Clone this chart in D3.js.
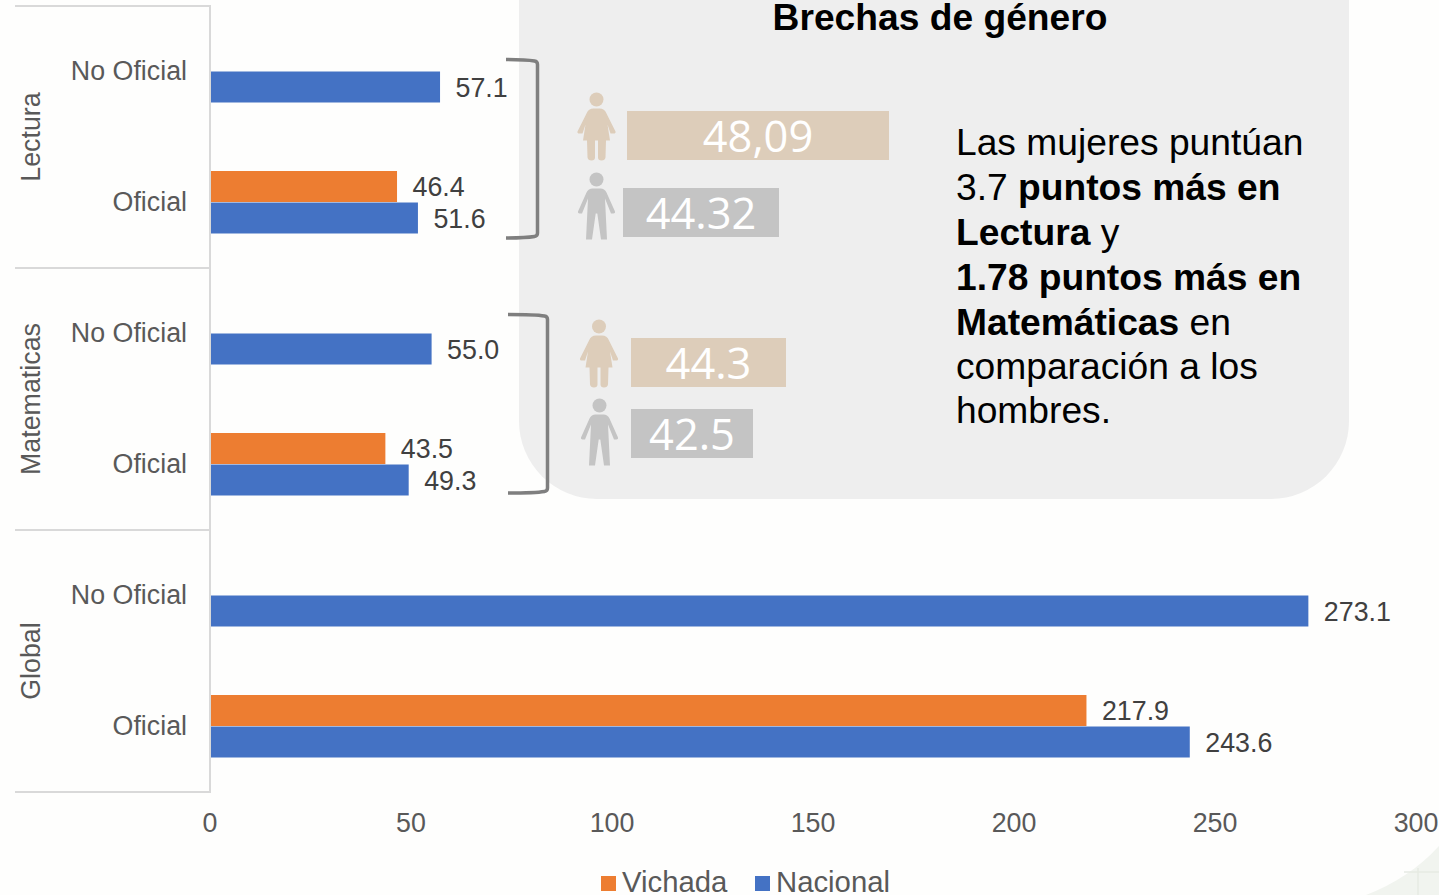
<!DOCTYPE html>
<html lang="es"><head><meta charset="utf-8">
<script src="https://cdn.jsdelivr.net/npm/d3@7/dist/d3.min.js"></script>
<style>html,body{margin:0;padding:0;background:#fefefd;overflow:hidden}svg{display:block;font-family:"Liberation Sans",Arial,sans-serif}</style>
</head><body><svg id="c" width="1439" height="895"></svg>
<script>
const groups = ["Lectura","Matematicas","Global"];
const types = ["No Oficial","Oficial"];
const seriesNames = ["Vichada","Nacional"];
const vichada = [null,46.4,null,43.5,null,217.9];
const nacional = [57.1,51.6,55.0,49.3,273.1,243.6];
const xTicks = [0,50,100,150,200,250,300];
const gapLabels = ["48,09","44.32","44.3","42.5"];
const colors = {Vichada:"#ed7d31",Nacional:"#4472c4"};

const svg = d3.select("#c");
const x = d3.scaleLinear().domain([0,300]).range([210.5,1416.5]);
const yGroup = d3.scaleBand().domain(groups).range([6,792]);
const yType = d3.scaleBand().domain(types).range([0,yGroup.bandwidth()]);
const barH = 31;
const fs = 26.8;

// page background corner
svg.append("path").attr("d","M1366 895Q1410 878 1439 846V895Z").attr("fill","#f1f4ef");
svg.append("path").attr("d","M1418 868V895M1404 872H1439").attr("stroke","#e6eae3").attr("stroke-width",1.5).attr("fill","none");

// callout panel
svg.append("rect").attr("x",519).attr("y",-90).attr("width",830).attr("height",589).attr("rx",78).attr("fill","#eeeeee");

const axisCol="#d9d9d9";
svg.selectAll(".sep").data([...groups.map(g=>yGroup(g)),792]).join("line")
  .attr("x1",15).attr("x2",210).attr("y1",d=>d).attr("y2",d=>d).attr("stroke",axisCol).attr("stroke-width",2);

// group and type labels
svg.selectAll(".g").data(groups).join("text")
  .attr("transform",g=>`translate(40,${yGroup(g)+yGroup.bandwidth()/2}) rotate(-90)`)
  .attr("text-anchor","middle").attr("font-size",fs).attr("fill","#595959").text(d=>d);
const rows = groups.flatMap((g,i)=>types.map((t,j)=>({g,t,i:i*2+j,y:yGroup(g)+yType(t)+yType.bandwidth()/2})));
svg.selectAll(".t").data(rows).join("text")
  .attr("x",187).attr("y",d=>d.y+8.5).attr("text-anchor","end")
  .attr("font-size",fs).attr("fill","#595959").text(d=>d.t);

// bars
function drawSeries(name,vals,off){
  const data = rows.map(r=>({...r,v:vals[r.i]})).filter(d=>d.v!=null);
  svg.selectAll(".b"+name).data(data).join("rect")
    .attr("x",x(0)).attr("y",d=>d.y+off).attr("width",d=>x(d.v)-x(0)).attr("height",barH)
    .attr("fill",colors[name]);
  svg.selectAll(".l"+name).data(data).join("text")
    .attr("x",d=>x(d.v)+15.5).attr("y",d=>d.y+off+barH/2+9.5)
    .attr("font-size",fs).attr("fill","#404040").text(d=>d.v.toFixed(1));
}
drawSeries("Vichada",vichada,-31.5);
drawSeries("Nacional",nacional,0);

// category axis line above the bar starts
svg.append("line").attr("x1",210).attr("x2",210).attr("y1",5).attr("y2",793).attr("stroke",axisCol).attr("stroke-width",2);

// value axis
const ax = d3.axisBottom(x).tickValues(xTicks).tickSize(0).tickPadding(0).tickFormat(d3.format("d"));
const axG = svg.append("g").attr("transform","translate(-1,813)").call(ax);
axG.select(".domain").remove();
axG.selectAll("text").attr("font-family","'Liberation Sans',Arial,sans-serif").attr("font-size",fs).attr("fill","#595959");

// legend
const legX = [601,755];
seriesNames.forEach((s,i)=>{
  svg.append("rect").attr("x",legX[i]).attr("y",876).attr("width",15).attr("height",15).attr("fill",colors[s]);
  svg.append("text").attr("x",legX[i]+21).attr("y",892).attr("font-size",29.3).attr("fill","#595959").text(s);
});

// brackets
const bracket=(x0,x1,y0,y1)=>`M${x0} ${y0}Q${x1-12} ${y0} ${x1-3} ${y0+1.5}Q${x1} ${y0+2} ${x1} ${y0+5}V${y1-5}Q${x1} ${y1-2} ${x1-3} ${y1-1.5}Q${x1-12} ${y1} ${x0} ${y1}`;
svg.append("path").attr("d",bracket(506,537.5,59.5,238)).attr("fill","none").attr("stroke","#7f7f7f").attr("stroke-width",3.5);
svg.append("path").attr("d",bracket(508,547.5,314.5,493)).attr("fill","none").attr("stroke","#7f7f7f").attr("stroke-width",3.5);

// person pictograms (origin: top of head, centre line)
const woman="M-3 16H3Q8 16 10 21L19 39Q19.500 41 17 41H14L11 32L13.500 48H9.500L9 65Q8.500 68 5 68Q1.500 68 1.500 65V48H-1.500V65Q-1.500 68 -5 68Q-8.500 68 -9 65L-9.500 48H-13.500L-11 32L-14 41H-17Q-19.500 41 -19 39L-10 21Q-8 16 -3 16Z";
const man="M-4 16H4Q8 16 10 20L18.500 39Q19 41 17 41H14.500L8.500 26L10.500 67H4.500L0.800 41H-0.800L-4.500 67H-10.500L-8.500 26L-14.500 41H-17Q-19 41 -18.500 39L-10 20Q-8 16 -4 16Z";
function person(px,py,shape,col){
  const g=svg.append("g").attr("transform",`translate(${px},${py})`).attr("fill",col);
  g.append("circle").attr("cy",7).attr("r",7);
  g.append("path").attr("d",shape);
}
const tan="#ddcdba", gray="#c4c4c4";
person(596.5,92.5,woman,tan);
person(596.5,172.5,man,gray);
person(599,319.5,woman,tan);
person(599.5,398.5,man,gray);

// gap boxes
const boxes=[[627,111,262,49,tan],[623,188,156,49,gray],[631,338,155,49,tan],[631,409,122,49,gray]];
boxes.forEach((b,i)=>{
  svg.append("rect").attr("x",b[0]).attr("y",b[1]).attr("width",b[2]).attr("height",b[3]).attr("fill",b[4]);
  svg.append("text").attr("x",b[0]+b[2]/2).attr("y",b[1]+41).attr("text-anchor","middle")
    .attr("font-family","'Open Sans',sans-serif").attr("font-size",43.4).attr("fill","#fff").text(gapLabels[i]);
});

// callout text
svg.append("text").attr("x",940).attr("y",30).attr("text-anchor","middle").attr("font-size",37.2).attr("font-weight","bold").attr("fill","#000").text("Brechas de género");
const lines=[
 [["Las mujeres puntúan",0]],
 [["3.7 ",0],["puntos más en",1]],
 [["Lectura",1],[" y",0]],
 [["1.78 puntos más en",1]],
 [["Matemáticas",1],[" en",0]],
 [["comparación a los",0]],
 [["hombres.",0]]];
const baselines=[155,200,245,290,335,379,423];
lines.forEach((ln,i)=>{
  const t=svg.append("text").attr("x",956).attr("y",baselines[i]).attr("font-size",37.2).attr("fill","#000").style("white-space","pre");
  ln.forEach(s=>t.append("tspan").attr("font-weight",s[1]?"bold":"normal").text(s[0]));
});
</script></body></html>
